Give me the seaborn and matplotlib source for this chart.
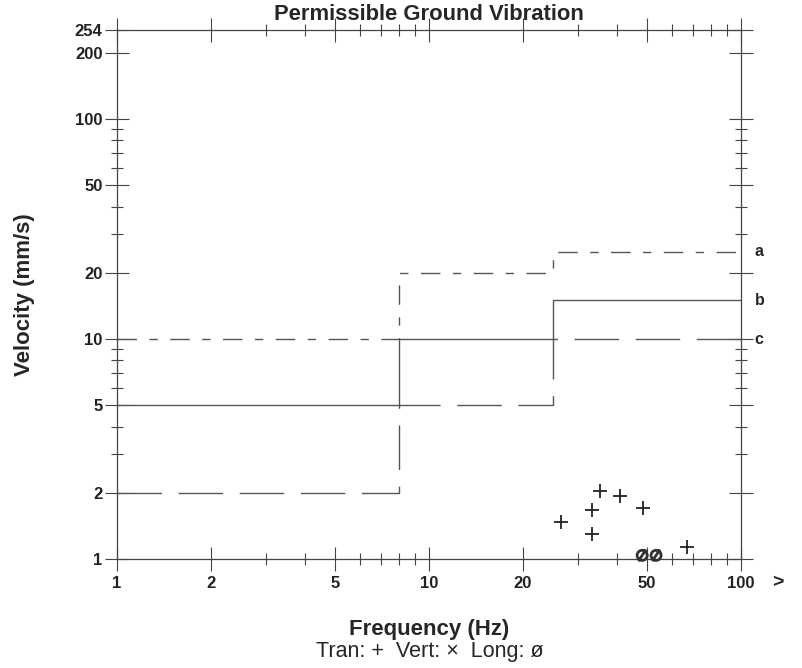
import matplotlib
matplotlib.use('Agg')
import matplotlib.pyplot as plt
import matplotlib.ticker as mticker
from matplotlib.path import Path
import pandas as pd
import seaborn as sns

# Datos del gráfico
freq_steps = [1, 8, 25, 100]
vel_a = [10, 20, 25, 25]
vel_b = [5, 10, 15, 15]
vel_c = [2, 5, 10, 10]

tran_freq = [26.5, 33.3, 33.3, 35.3, 40.9, 48.5, 67.1]
tran_vel = [1.47, 1.67, 1.30, 2.04, 1.94, 1.71, 1.13]
long_freq = [48.2, 53.4]
long_vel = [1.04, 1.04]

y_major = [1, 2, 5, 10, 20, 50, 100, 200, 254]
x_major = [1, 2, 5, 10, 20, 50, 100]

# Estilo
sns.set_style('white')
plt.rcParams['font.family'] = ['Liberation Sans', 'DejaVu Sans']

fig = plt.figure(figsize=(8.02, 6.68), dpi=100)
ax = fig.add_axes([0.146, 0.163, 0.778, 0.792])

df_lim = pd.DataFrame({'freq': freq_steps, 'a': vel_a, 'b': vel_b, 'c': vel_c})
line_col = '#555555'

sns.lineplot(data=df_lim, x='freq', y='a', ax=ax, color=line_col, lw=1.0,
             drawstyle='steps-post', linestyle=(0, (14, 9, 6, 9)),
             estimator=None, sort=False)
sns.lineplot(data=df_lim, x='freq', y='b', ax=ax, color=line_col, lw=1.0,
             drawstyle='steps-post', estimator=None, sort=False)
sns.lineplot(data=df_lim, x='freq', y='c', ax=ax, color=line_col, lw=1.0,
             drawstyle='steps-post', linestyle=(0, (32, 12)),
             estimator=None, sort=False)

# Puntos medidos
slashed_o = Path.make_compound_path(
    Path.unit_circle(), Path([[-0.75, -1.15], [0.75, 1.15]]))
df_tran = pd.DataFrame({'freq': tran_freq, 'vel': tran_vel})
df_long = pd.DataFrame({'freq': long_freq, 'vel': long_vel})
sns.scatterplot(data=df_tran, x='freq', y='vel', ax=ax, marker='+', s=110,
                color='#222222', linewidth=1.3, zorder=5)
sns.scatterplot(data=df_long, x='freq', y='vel', ax=ax, marker=slashed_o, s=70,
                facecolor='none', edgecolor='#333333', linewidth=2.0,
                zorder=5, clip_on=False)

ax.set_xscale('log')
ax.set_yscale('log')
ax.set_xlim(1, 100)
ax.set_ylim(1, 254)

ax.xaxis.set_major_locator(mticker.FixedLocator(x_major))
ax.xaxis.set_major_formatter(mticker.FixedFormatter([str(v) for v in x_major]))
ax.xaxis.set_minor_locator(mticker.LogLocator(base=10, subs=(3, 4, 6, 7, 8, 9)))
ax.xaxis.set_minor_formatter(mticker.NullFormatter())
ax.yaxis.set_major_locator(mticker.FixedLocator(y_major))
ax.yaxis.set_major_formatter(mticker.FixedFormatter([str(v) for v in y_major]))
ax.yaxis.set_minor_locator(mticker.LogLocator(base=10, subs=(3, 4, 6, 7, 8, 9)))
ax.yaxis.set_minor_formatter(mticker.NullFormatter())

ax.tick_params(which='major', direction='inout', length=17, width=0.8,
               color='#444444', left=True, bottom=True, top=True, right=True,
               labelsize=12, pad=2)
ax.tick_params(axis='x', which='major', pad=4)
ax.tick_params(which='minor', direction='inout', length=8, width=0.8,
               color='#444444', left=True, bottom=True, top=True, right=True)
for lab in ax.get_xticklabels() + ax.get_yticklabels():
    lab.set_fontweight('bold')
    lab.set_color('#222222')

for sp in ax.spines.values():
    sp.set_color('#444444')
    sp.set_linewidth(0.9)

# Etiquetas de las curvas
for name, vals in (('a', vel_a), ('b', vel_b), ('c', vel_c)):
    ax.text(1.022, vals[-1], name, transform=ax.get_yaxis_transform(),
            ha='left', va='center', fontsize=11.5, fontweight='bold')

ax.text(1.05, -0.045, '>', transform=ax.transAxes, ha='left', va='center',
        fontsize=14, fontweight='bold')

ax.set_title('Permissible Ground Vibration', fontsize=15.8, fontweight='bold', pad=7)
ax.set_xlabel('Frequency (Hz)', fontsize=16, fontweight='bold')
ax.set_ylabel('Velocity (mm/s)', fontsize=16, fontweight='bold')
ax.xaxis.set_label_coords(0.50, -0.113)
ax.yaxis.set_label_coords(-0.131, 0.5)
fig.text(0.536, 0.024, 'Tran: +  Vert: ×  Long: ø', ha='center', va='center',
         fontsize=15.5)

fig.savefig('out.png', dpi=100)
